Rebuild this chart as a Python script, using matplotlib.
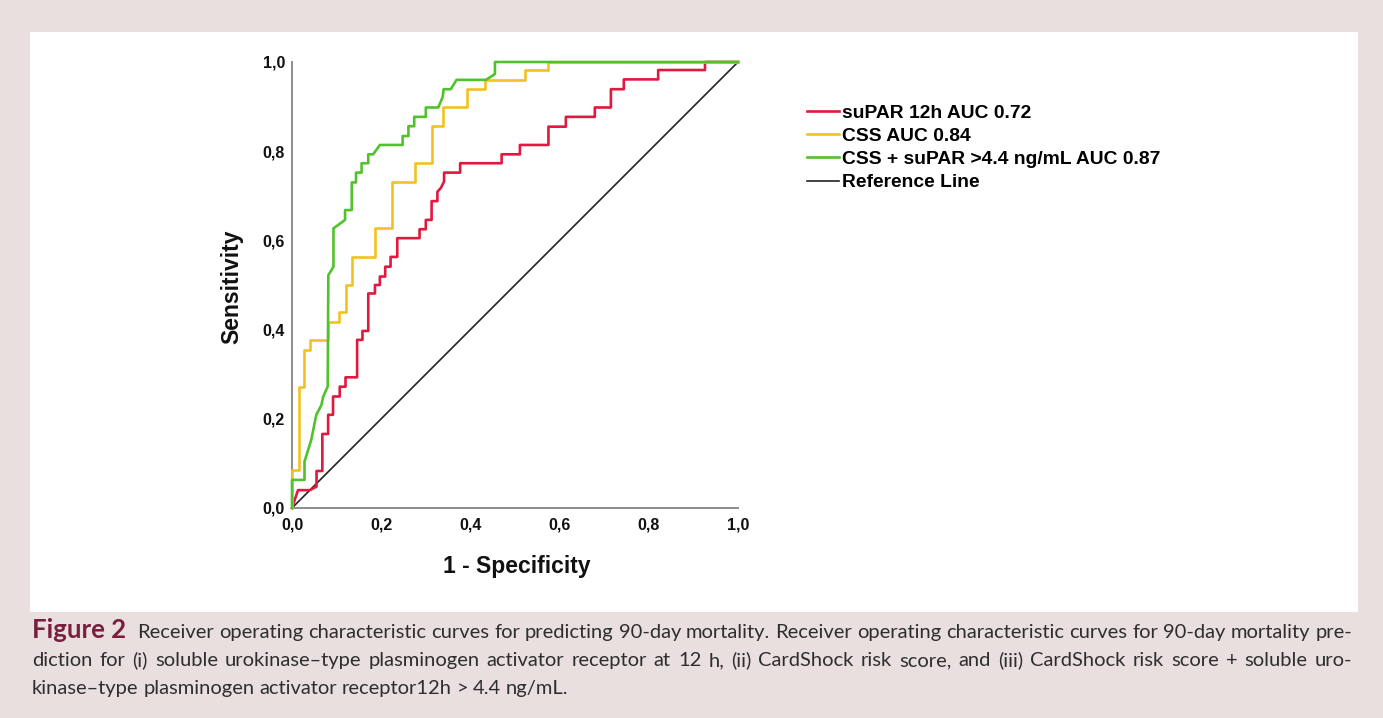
import matplotlib
matplotlib.use("Agg")
import matplotlib.pyplot as plt
from matplotlib.patches import Rectangle

# ROC vertices (1 - specificity, sensitivity)
suparX = [0, 0.0135, 0.040, 0.055, 0.055, 0.068, 0.068, 0.081, 0.081, 0.092, 0.092, 0.107, 0.107,
          0.120, 0.120, 0.146, 0.146, 0.158, 0.158, 0.171, 0.171, 0.186, 0.186, 0.197, 0.197,
          0.209, 0.209, 0.221, 0.221, 0.236, 0.236, 0.286, 0.286, 0.300, 0.300, 0.313, 0.313,
          0.326, 0.326, 0.334, 0.341, 0.341, 0.377, 0.377, 0.470, 0.470, 0.511, 0.511, 0.575,
          0.575, 0.614, 0.614, 0.679, 0.679, 0.715, 0.715, 0.744, 0.744, 0.821, 0.821, 0.926,
          0.926, 1.0]
suparY = [0, 0.040, 0.040, 0.048, 0.083, 0.083, 0.166, 0.166, 0.209, 0.209, 0.250, 0.250, 0.272,
          0.272, 0.293, 0.293, 0.377, 0.377, 0.397, 0.397, 0.481, 0.481, 0.500, 0.500, 0.519,
          0.519, 0.541, 0.541, 0.563, 0.563, 0.605, 0.605, 0.625, 0.625, 0.646, 0.646, 0.688,
          0.688, 0.709, 0.718, 0.732, 0.752, 0.752, 0.773, 0.773, 0.793, 0.793, 0.814, 0.814,
          0.855, 0.855, 0.877, 0.877, 0.898, 0.898, 0.939, 0.939, 0.961, 0.961, 0.982, 0.982,
          1.0, 1.0]

cssX = [0, 0, 0.016, 0.016, 0.028, 0.028, 0.040, 0.040, 0.080, 0.080, 0.106, 0.106, 0.121, 0.121,
        0.134, 0.134, 0.186, 0.186, 0.224, 0.224, 0.276, 0.276, 0.315, 0.315, 0.339, 0.339,
        0.392, 0.392, 0.433, 0.433, 0.522, 0.522, 0.575, 0.575, 1.0]
cssY = [0, 0.085, 0.085, 0.272, 0.272, 0.354, 0.354, 0.377, 0.377, 0.418, 0.418, 0.440, 0.440,
        0.500, 0.500, 0.563, 0.563, 0.627, 0.627, 0.732, 0.732, 0.773, 0.773, 0.856, 0.856,
        0.898, 0.898, 0.939, 0.939, 0.960, 0.960, 0.982, 0.982, 1.0, 1.0]

comboX = [0, 0, 0.028, 0.028, 0.043, 0.0545, 0.066, 0.070, 0.080, 0.0815, 0.093, 0.093, 0.119,
          0.119, 0.134, 0.134, 0.1435, 0.1435, 0.156, 0.156, 0.171, 0.171, 0.182, 0.197, 0.248,
          0.248, 0.261, 0.261, 0.274, 0.274, 0.300, 0.300, 0.328, 0.338, 0.340, 0.356, 0.369,
          0.435, 0.455, 0.455, 1.0]
comboY = [0, 0.063, 0.063, 0.104, 0.152, 0.209, 0.231, 0.250, 0.272, 0.522, 0.541, 0.627, 0.646,
          0.668, 0.668, 0.730, 0.730, 0.752, 0.752, 0.773, 0.773, 0.793, 0.793, 0.814, 0.814,
          0.834, 0.834, 0.856, 0.856, 0.877, 0.877, 0.898, 0.898, 0.922, 0.939, 0.939, 0.960,
          0.960, 0.973, 1.0, 1.0]

refX = [0, 1]
refY = [0, 1]

labels = ["suPAR 12h AUC 0.72", "CSS AUC 0.84", "CSS + suPAR >4.4 ng/mL AUC 0.87", "Reference Line"]
ticks = [0, 0.2, 0.4, 0.6, 0.8, 1.0]
tickLabels = ["0,0", "0,2", "0,4", "0,6", "0,8", "1,0"]

W, H = 1383, 718
fig = plt.figure(figsize=(W / 100, H / 100), dpi=100, facecolor="#e9dfdf")
fig.patches.append(Rectangle((30 / W, 1 - 612 / H), 1328 / W, 580 / H, transform=fig.transFigure,
                             facecolor="white", edgecolor="none", zorder=-5))

ax = fig.add_axes([292 / W, 1 - 508 / H, 446 / W, 446 / H], zorder=2)
ax.set_facecolor("none")
ax.plot(suparX, suparY, color="#e0193f", lw=1.9, clip_on=False, label=labels[0], zorder=3)
ax.plot(cssX, cssY, color="#f2c11f", lw=1.9, clip_on=False, label=labels[1], zorder=4)
ax.plot(comboX, comboY, color="#52c22c", lw=1.9, clip_on=False, label=labels[2], zorder=5)
ax.plot(refX, refY, color="#222222", lw=1.2, clip_on=False, label=labels[3], zorder=2)

ax.set_xlim(0, 1)
ax.set_ylim(0, 1)
for s in ["top", "right"]:
    ax.spines[s].set_visible(False)
for s in ["left", "bottom"]:
    ax.spines[s].set_color("#8c8c8c")
    ax.spines[s].set_linewidth(1.4)
ax.set_xticks(ticks)
ax.set_yticks(ticks)
ax.set_xticklabels(tickLabels)
ax.set_yticklabels(tickLabels)
ax.tick_params(axis="y", length=0, pad=5)
ax.tick_params(axis="x", length=0, pad=7)
for t in ax.get_xticklabels() + ax.get_yticklabels():
    t.set_fontfamily("Liberation Sans")
    t.set_fontweight("bold")
    t.set_fontsize(11.5)
    t.set_color("#111111")

fig.text(517 / W, 1 - 567 / H, "1 - Specificity", ha="center", va="center", fontsize=16.5,
         fontweight="bold", family="Liberation Sans", color="#111111")
fig.text(232 / W, 1 - 287 / H, "Sensitivity", ha="center", va="center", rotation=90, fontsize=16.5,
         fontweight="bold", family="Liberation Sans", color="#111111")

leg = ax.legend(loc="upper left", bbox_to_anchor=(807 / W, 1 - 104 / H), bbox_transform=fig.transFigure,
                frameon=False, handlelength=1.65, handletextpad=0.15, labelspacing=0.3,
                borderpad=0, borderaxespad=0,
                prop={"family": "Liberation Sans", "weight": "bold", "size": 13.9})

# caption, justified by spreading words
capFont = ["Lato", "DejaVu Sans"]
lines = [
    ("Receiver operating characteristic curves for predicting 90-day mortality. Receiver operating "
     "characteristic curves for 90-day mortality pre-", True),
    ("diction for (i) soluble urokinase–type plasminogen activator receptor at 12 h, (ii) CardShock "
     "risk score, and (iii) CardShock risk score + soluble uro-", True),
    ("kinase–type plasminogen activator receptor12h > 4.4 ng/mL.", False),
]
left, right = 32, 1352
baselines = [638, 666, 694]
bodySize = 14.5
renderer = fig.canvas.get_renderer()
for i, (txt, just) in enumerate(lines):
    words = txt.split(" ")
    x0 = left
    if i == 0:
        head = fig.text(left / W, 1 - baselines[i] / H, "Figure 2", fontsize=18.5, fontweight="bold",
                        color="#7a1e40", family=capFont, va="baseline", ha="left")
        x0 = left + head.get_window_extent(renderer).width + 11
    objs = [fig.text(0, 1 - baselines[i] / H, w, fontsize=bodySize, color="#2e2e2e", family=capFont,
                     va="baseline", ha="left") for w in words]
    widths = [o.get_window_extent(renderer).width for o in objs]
    space = 4.8
    if just:
        space = (right - x0 - sum(widths)) / (len(words) - 1)
    x = x0
    for o, wd in zip(objs, widths):
        o.set_x(x / W)
        x += wd + space

fig.savefig("out.png", dpi=100, facecolor=fig.get_facecolor())
